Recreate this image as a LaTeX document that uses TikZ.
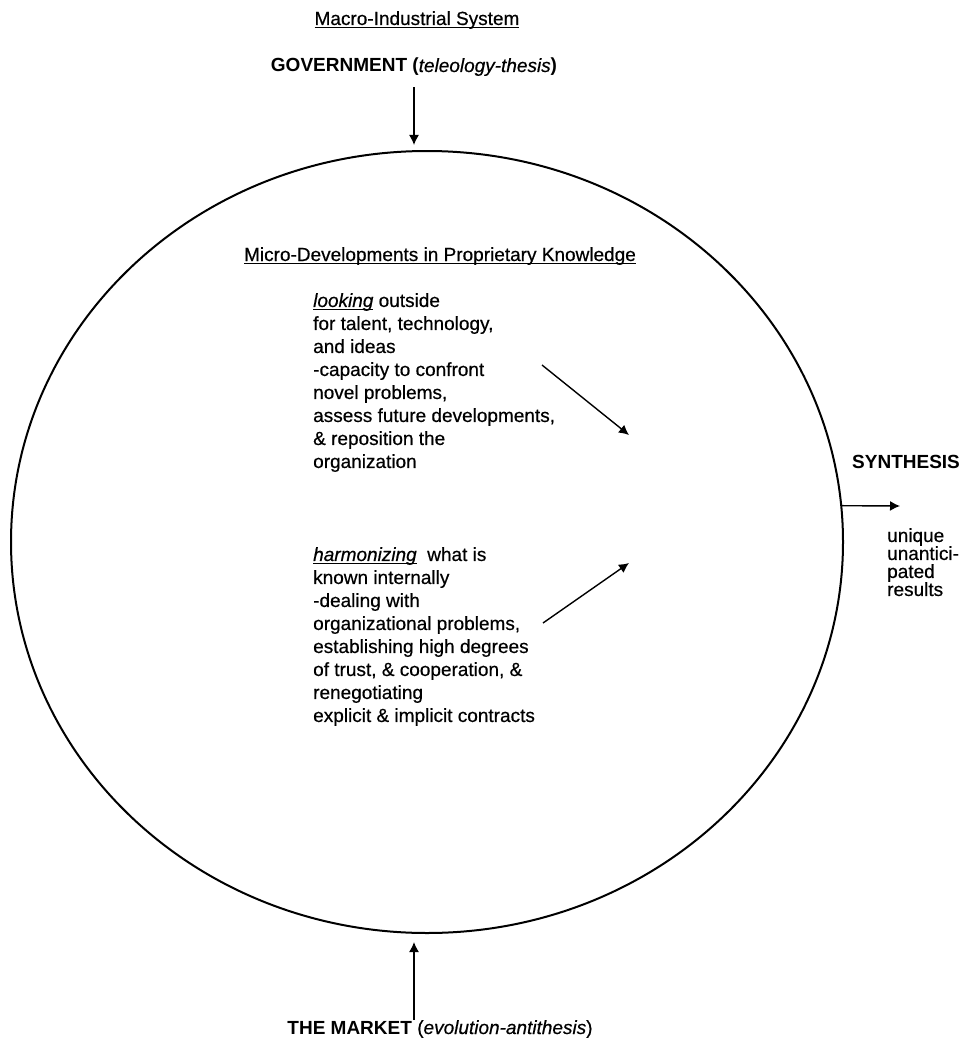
\documentclass[tikz,border=0pt]{standalone}
\usepackage{fontspec}
\setmainfont{Liberation Sans}[UprightFeatures={FakeBold=0.5}, ItalicFeatures={FakeBold=0.5}]
\usetikzlibrary{shapes.geometric}
\usetikzlibrary{arrows.meta}
\newcommand{\ulword}[1]{\setbox0\hbox{#1}\rlap{\rule[-3pt]{\wd0}{1.2pt}}\box0\relax}

\begin{document}
\begin{tikzpicture}[x=1pt,y=-1pt,
        txt/.style={inner sep=0pt, font=\fontsize{19}{23}\selectfont},
        arr/.style={-{Latex[length=10pt,width=10pt]}, line width=1.4pt}
    ]
        \useasboundingbox (0,0) rectangle (963,1038);
        % The circle
        \node[ellipse, draw, line width=2pt, inner sep=0pt, minimum width=832pt, minimum height=782pt] (circ) at (427,542) {};
        % Add headings
        \node[txt, anchor=base] (macro) at (417,25) {\ulword{Macro-Industrial System}};
        \node[txt, anchor=base] (gov) at (414,72) {\textbf{GOVERNMENT (}\textit{teleology-thesis}\textbf{)}};
        \node[txt, anchor=base] (micro) at (440,261) {\ulword{Micro-Developments in Proprietary Knowledge}};
        % Add inner texts
        \node[txt, anchor=north west, align=left] (look) at (313,293) {\ulword{\textit{looking}} outside\\
            for talent, technology,\\
            and ideas\\
            -capacity to confront\\
            novel problems,\\
            assess future developments,\\
            \& reposition the\\
            organization};
        \node[txt, anchor=north west, align=left] (harm) at (313,547) {\ulword{\textit{harmonizing}}\ \ what is\\
            known internally\\
            -dealing with\\
            organizational problems,\\
            establishing high degrees\\
            of trust, \& cooperation, \&\\
            renegotiating\\
            explicit \& implicit contracts};
        % Add synthesis
        \node[txt, anchor=base west] (synth) at (852,468) {\textbf{SYNTHESIS}};
        \node[txt, anchor=north west, align=left, font=\fontsize{19}{18}\selectfont] (res) at (887,528) {unique\\unantici-\\pated\\results};
        \node[txt, anchor=base] (market) at (440,1034) {\textbf{THE MARKET} (\textit{evolution-antithesis})};
        % Add arrows
        \coordinate (look1) at (542,365);
        \coordinate (look2) at (629,435);
        \coordinate (harm1) at (543,623);
        \coordinate (harm2) at (629,563);
        \coordinate (synend) at (900,506);
        \draw[arr, shorten <=11pt, shorten >=5pt] (gov.south) -- (gov.south |- circ.north);
        \draw[arr, shorten >=8pt] (market.north -| gov.south) -- (gov.south |- circ.south);
        \draw[arr] (look1) -- (look2);
        \draw[arr] (harm1) -- (harm2);
        \draw[arr] (circ.5) -- (synend);
    \end{tikzpicture}
\end{document}
